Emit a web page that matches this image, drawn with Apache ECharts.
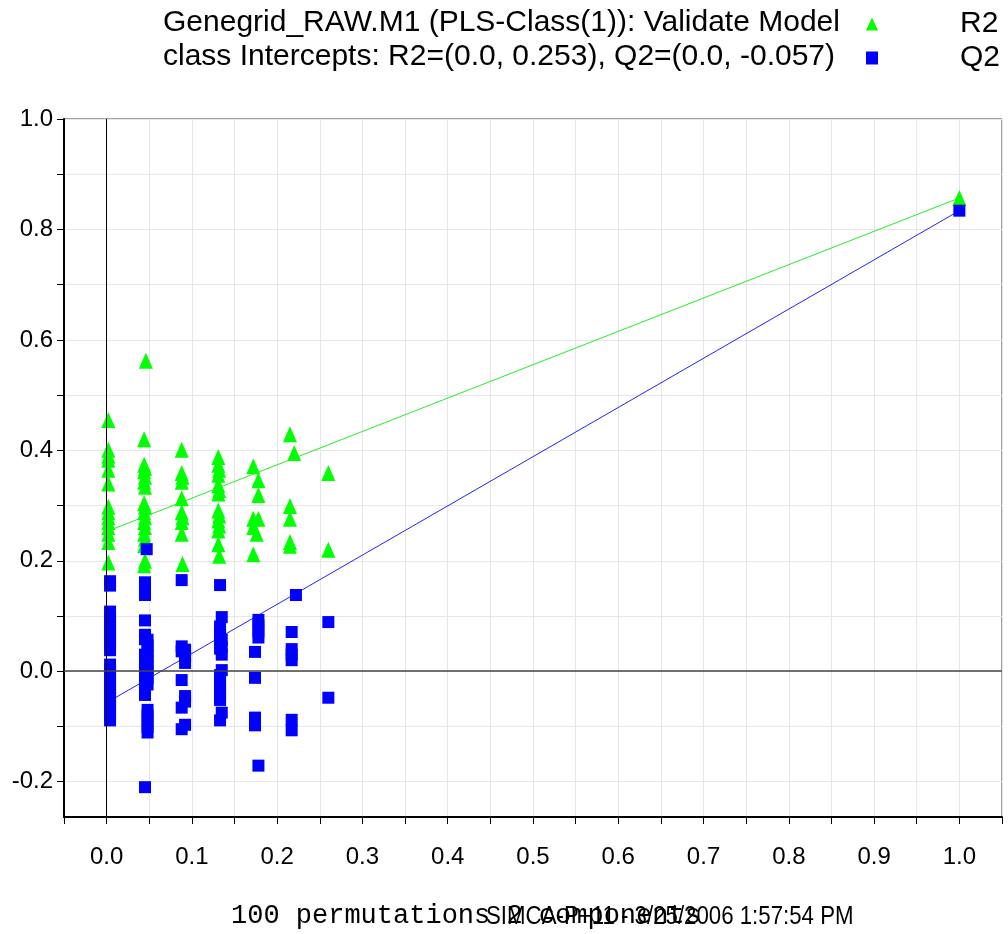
<!DOCTYPE html>
<html>
<head>
<meta charset="utf-8">
<script src="https://cdn.jsdelivr.net/npm/echarts@6/dist/echarts.min.js"></script>
<style>
html,body{margin:0;padding:0;background:#fff;}
#chart{width:1008px;height:934px;}
</style>
</head>
<body>
<div id="chart"></div>
<script>
// ---- Data ----
const titleLine1 = 'Genegrid_RAW.M1 (PLS-Class(1)): Validate Model';
const titleLine2 = 'class Intercepts: R2=(0.0, 0.253), Q2=(0.0, -0.057)';
const xAxisTitle = '100 permutations 2 components';
const stampText = 'SIMCA-P+11 - 3/25/2006 1:57:54 PM';

const xTickValues = [-0.05,0,0.05,0.1,0.15,0.2,0.25,0.3,0.35,0.4,0.45,0.5,0.55,0.6,0.65,0.7,0.75,0.8,0.85,0.9,0.95,1.0,1.05];
const xLabelValues = [0,0.1,0.2,0.3,0.4,0.5,0.6,0.7,0.8,0.9,1.0];
const yTickValues = [-0.2,-0.1,0,0.1,0.2,0.3,0.4,0.5,0.6,0.7,0.8,0.9,1.0];
const yLabelValues = [-0.2,0,0.2,0.4,0.6,0.8,1.0];

// R2 of permuted models: [correlation of permuted y with original y, R2]
const r2Points = [
  [0.002,0.455],[0.002,0.401],[0.002,0.390],[0.002,0.383],[0.002,0.365],[0.002,0.340],[0.002,0.298],
  [0.002,0.288],[0.002,0.279],[0.002,0.270],[0.002,0.261],[0.002,0.249],[0.002,0.234],[0.002,0.197],
  [0.046,0.562],[0.044,0.420],[0.044,0.374],[0.045,0.368],[0.044,0.362],[0.045,0.352],[0.044,0.343],
  [0.045,0.334],[0.044,0.304],[0.045,0.298],[0.044,0.288],[0.045,0.279],[0.044,0.270],[0.045,0.261],
  [0.044,0.249],[0.045,0.240],[0.044,0.228],[0.045,0.200],[0.044,0.192],
  [0.088,0.401],[0.088,0.359],[0.089,0.352],[0.088,0.343],[0.088,0.313],[0.088,0.288],[0.089,0.279],
  [0.088,0.270],[0.088,0.249],[0.089,0.194],
  [0.131,0.388],[0.131,0.374],[0.132,0.365],[0.131,0.356],[0.131,0.337],[0.132,0.328],[0.131,0.322],
  [0.131,0.291],[0.132,0.282],[0.131,0.273],[0.132,0.264],[0.131,0.255],[0.131,0.230],[0.132,0.209],
  [0.172,0.371],[0.178,0.346],[0.178,0.319],[0.172,0.276],[0.178,0.276],[0.172,0.261],[0.176,0.249],[0.172,0.212],
  [0.215,0.429],[0.220,0.395],[0.215,0.299],[0.215,0.276],[0.215,0.234],[0.215,0.227],
  [0.260,0.359],[0.260,0.220],
  [1.000,0.857]
];

// Q2 of permuted models
const q2Points = [
  [0.004,0.163],[0.004,0.155],
  [0.004,0.108],[0.004,0.098],[0.004,0.088],[0.004,0.078],[0.004,0.068],[0.004,0.058],[0.004,0.048],[0.004,0.038],
  [0.004,0.012],[0.004,0.002],[0.004,-0.008],[0.004,-0.018],[0.004,-0.028],[0.004,-0.038],[0.004,-0.048],
  [0.004,-0.058],[0.004,-0.068],[0.004,-0.078],[0.004,-0.089],
  [0.047,0.221],[0.045,0.161],[0.045,0.149],[0.045,0.138],[0.045,0.092],[0.045,0.066],[0.045,0.058],
  [0.048,0.057],[0.048,0.047],[0.048,0.037],[0.048,0.027],[0.048,0.017],[0.048,0.007],[0.048,-0.003],
  [0.048,-0.013],[0.048,-0.024],
  [0.045,0.030],[0.045,0.020],[0.045,0.010],[0.045,0.000],[0.045,-0.010],[0.045,-0.020],[0.045,-0.032],[0.045,-0.043],
  [0.048,-0.070],[0.048,-0.080],[0.048,-0.090],[0.048,-0.101],[0.048,-0.111],[0.045,-0.210],
  [0.088,0.165],[0.088,0.045],[0.088,0.036],[0.092,0.039],[0.092,0.027],[0.092,0.015],[0.088,-0.016],
  [0.092,-0.045],[0.092,-0.055],[0.088,-0.066],[0.092,-0.097],[0.088,-0.105],
  [0.133,0.156],[0.135,0.098],[0.133,0.081],[0.133,0.071],[0.133,0.061],[0.133,0.051],[0.133,0.041],
  [0.135,0.057],[0.135,0.044],[0.135,0.030],[0.135,0.002],
  [0.133,-0.007],[0.133,-0.017],[0.133,-0.027],[0.133,-0.037],[0.133,-0.047],[0.133,-0.052],
  [0.135,-0.075],[0.133,-0.089],
  [0.178,0.093],[0.178,0.083],[0.178,0.072],[0.178,0.061],[0.174,0.035],[0.174,-0.012],
  [0.174,-0.084],[0.174,-0.098],[0.178,-0.171],
  [0.222,0.138],[0.217,0.071],[0.217,0.040],[0.217,0.030],[0.217,0.020],[0.217,-0.088],[0.217,-0.107],
  [0.260,0.089],[0.260,-0.048],
  [1.000,0.834]
];

// Regression lines through the intercepts and the original model
const r2Line = [[0.0,0.253],[1.0,0.857]];
const q2Line = [[0.0,-0.057],[1.0,0.834]];

// ---- Chart ----
const chart = echarts.init(document.getElementById('chart'));
const FONT = 'Liberation Sans, Arial, sans-serif';

chart.setOption({
  animation: false,
  backgroundColor: '#ffffff',
  grid: {left: 64, right: 6, top: 119, bottom: 117, show: true, borderColor: '#444', borderWidth: 1},
  legend: {
    orient: 'vertical', left: 861, top: 4, itemWidth: 12, itemHeight: 13, itemGap: 4,
    data: [{name: 'R2', icon: 'triangle'}, {name: 'Q2', icon: 'rect'}],
    textStyle: {fontFamily: FONT, fontSize: 30, color: '#000', padding: [0,0,0,77]},
    selectedMode: false
  },
  xAxis: {
    type: 'value', min: -0.05, max: 1.05,
    axisLine: {show: true, onZero: false, lineStyle: {color: '#000', width: 2}},
    axisTick: {show: true, length: 7, customValues: xTickValues, lineStyle: {color: '#000', width: 1}},
    axisLabel: {customValues: xLabelValues, margin: 28, fontFamily: FONT, fontSize: 24, color: '#000',
      formatter: v => v.toFixed(1)},
    splitLine: {show: true, lineStyle: {color: '#e6e6e6', width: 1}}
  },
  yAxis: {
    type: 'value', min: -0.264, max: 1.0,
    axisLine: {show: true, onZero: false, lineStyle: {color: '#000', width: 2}},
    axisTick: {show: true, length: 7, customValues: yTickValues, lineStyle: {color: '#000', width: 1}},
    axisLabel: {customValues: yLabelValues, margin: 11, fontFamily: FONT, fontSize: 24, color: '#000',
      formatter: v => v.toFixed(1)},
    splitLine: {show: true, lineStyle: {color: '#e6e6e6', width: 1}}
  },
  graphic: [
    {type: 'text', left: 163, top: 8, style: {text: titleLine1, font: '30px ' + FONT, fill: '#000'}},
    {type: 'text', left: 163, top: 42, style: {text: titleLine2, font: '30px ' + FONT, fill: '#000'}},
    {type: 'text', left: 231, top: 902, style: {text: xAxisTitle, font: '27px "Liberation Mono", "Courier New", monospace', fill: '#000'}},
    {type: 'text', x: 486, y: 905, scaleX: 0.89, style: {text: stampText, font: '25px ' + FONT, fill: '#000'}}
  ],
  series: [
    {
      name: 'zero', type: 'line', data: [], silent: true,
      markLine: {silent: true, symbol: 'none', label: {show: false}, animation: false,
        data: [
          {xAxis: 0, lineStyle: {color: '#000', width: 1, type: 'solid'}},
          {yAxis: 0, lineStyle: {color: '#444', width: 1.5, type: 'solid'}}
        ]}
    },
    {name: 'R2 line', type: 'line', data: r2Line, symbol: 'none', silent: true, z: 2,
      lineStyle: {color: '#22ee22', width: 1}},
    {name: 'Q2 line', type: 'line', data: q2Line, symbol: 'none', silent: true, z: 2,
      lineStyle: {color: '#2222ff', width: 1}},
    {name: 'R2', type: 'scatter', data: r2Points, symbol: 'triangle', symbolSize: [14,16], z: 3,
      itemStyle: {color: '#00ff00', opacity: 1}},
    {name: 'Q2', type: 'scatter', data: q2Points, symbol: 'rect', symbolSize: [12,12], z: 4,
      itemStyle: {color: '#0000ff', opacity: 1}}
  ]
});
</script>
</body>
</html>
